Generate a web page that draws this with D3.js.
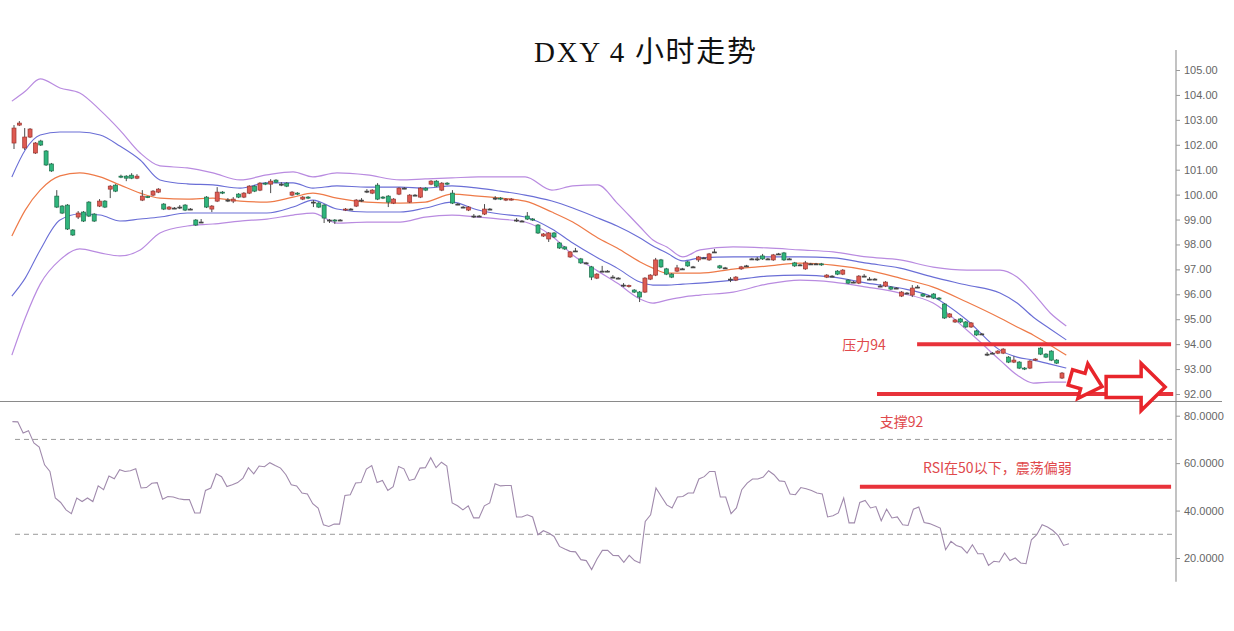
<!DOCTYPE html>
<html><head><meta charset="utf-8">
<script src="https://cdn.jsdelivr.net/npm/d3@7/dist/d3.min.js"></script>
<style>body{margin:0;background:#fff}svg{display:block}</style>
</head><body><svg id="c" width="1234" height="631"></svg>
<script>
// ---- DATA ----
const openP = [102.07,102.79,101.87,102.31,101.67,102.15,101.75,101.23,99.94,99.54,99.58,98.58,99.10,99.30,99.70,99.22,99.54,99.74,100.22,100.38,
100.74,100.74,100.78,100.66,99.78,99.92,99.98,100.10,99.62,99.42,99.46,99.50,99.58,99.42,98.98,98.90,99.90,99.42,99.74,100.10,
99.78,99.74,100.02,99.90,100.06,100.34,100.18,100.46,100.42,100.58,100.42,100.46,99.98,100.06,99.82,99.90,99.70,99.66,99.58,98.98,
98.98,98.98,99.38,99.42,99.54,99.78,100.14,100.06,100.38,99.90,99.94,99.66,100.02,100.26,99.70,99.98,99.90,100.26,100.42,100.54,
100.18,100.46,100.06,99.62,99.50,99.38,99.14,99.14,99.22,99.42,99.86,99.86,99.78,99.80,98.98,98.94,99.14,99.02,98.78,98.34,
98.22,98.46,98.06,97.90,97.50,97.74,97.42,97.26,97.10,96.65,96.93,96.93,96.69,96.65,96.37,96.31,96.17,96.09,96.09,96.61,
96.77,97.38,97.02,96.81,96.93,97.02,97.30,97.10,97.38,97.46,97.38,97.70,97.14,97.06,96.61,96.57,97.02,97.14,97.42,97.42,
97.54,97.42,97.38,97.62,97.66,97.42,97.26,97.18,97.02,97.22,97.22,97.22,96.69,96.73,96.93,96.81,96.57,96.49,96.45,96.73,
96.61,96.61,96.33,96.33,96.29,96.25,95.93,96.05,95.97,96.29,96.01,95.93,96.01,95.85,95.61,95.09,94.89,95.01,94.89,94.69,
94.53,94.41,93.60,93.64,93.64,93.64,93.48,93.28,93.28,93.04,93.04,93.36,93.84,93.60,93.72,93.36,92.64];
const closeP = [102.67,102.87,102.31,102.63,102.07,101.99,101.19,100.95,99.50,99.26,98.62,98.38,99.26,98.94,99.14,98.94,99.74,99.50,100.34,100.14,
100.70,100.66,100.66,100.74,99.94,99.88,100.14,100.22,99.42,99.50,99.46,99.50,99.38,99.42,98.78,98.90,99.50,99.54,100.10,100.06,
99.78,99.82,99.90,100.06,100.34,100.14,100.46,100.42,100.54,100.50,100.42,100.34,100.10,100.02,99.90,99.86,99.70,99.50,99.06,98.98,
98.94,98.98,99.42,99.42,99.78,99.78,100.14,100.18,99.82,99.86,99.70,99.82,100.26,100.26,99.98,99.98,100.26,100.18,100.54,100.34,
100.46,100.42,99.66,99.62,99.50,99.50,99.14,99.14,99.42,99.42,99.86,99.82,99.82,99.82,98.98,98.94,99.02,98.98,98.46,98.42,
98.46,98.30,97.86,97.82,97.70,97.74,97.26,97.26,96.69,96.81,96.93,96.93,96.69,96.65,96.37,96.35,96.09,95.89,96.65,96.77,
97.38,97.10,96.81,96.69,97.06,97.02,97.14,97.10,97.50,97.46,97.62,97.70,97.06,97.06,96.61,96.69,97.10,97.14,97.42,97.42,
97.42,97.42,97.58,97.62,97.38,97.42,97.14,97.18,97.26,97.22,97.22,97.18,96.77,96.73,96.81,96.97,96.45,96.49,96.73,96.73,
96.61,96.61,96.33,96.49,96.21,96.25,96.09,96.05,96.25,96.29,95.93,95.93,95.85,95.81,95.05,95.21,94.97,94.89,94.69,94.85,
94.37,94.41,93.60,93.64,93.72,93.80,93.28,93.36,93.04,93.00,93.32,93.40,93.60,93.48,93.36,93.24,92.84];
const highP = [102.79,102.95,102.67,102.67,102.11,102.20,101.79,101.27,100.18,99.58,99.62,98.62,99.34,99.34,99.74,99.26,99.82,99.78,100.38,100.42,
100.80,100.78,100.86,100.82,100.18,99.94,100.18,100.26,99.66,99.54,99.50,99.58,99.62,99.46,99.02,99.02,99.94,99.58,100.30,100.14,
99.86,99.90,100.06,100.10,100.38,100.38,100.50,100.50,100.62,100.62,100.50,100.50,100.14,100.10,99.94,99.94,99.78,99.70,99.62,99.02,
99.02,99.02,99.46,99.46,99.82,99.86,100.22,100.22,100.46,99.94,99.98,99.86,100.30,100.30,100.02,100.02,100.30,100.30,100.58,100.58,
100.50,100.50,100.18,99.66,99.54,99.54,99.22,99.18,99.62,99.46,99.94,99.90,99.86,99.86,99.06,98.98,99.30,99.06,98.82,98.46,
98.50,98.50,98.10,97.94,97.74,97.86,97.46,97.30,97.14,96.85,97.14,96.97,96.77,96.69,96.45,96.39,96.21,96.13,96.69,96.81,
97.46,97.42,97.06,96.85,97.18,97.06,97.34,97.14,97.54,97.50,97.66,97.82,97.18,97.10,96.69,96.73,97.14,97.18,97.46,97.50,
97.62,97.46,97.62,97.66,97.70,97.46,97.30,97.22,97.34,97.26,97.26,97.26,96.81,96.77,96.97,97.01,96.61,96.53,96.77,96.81,
96.69,96.65,96.41,96.53,96.33,96.29,96.13,96.09,96.37,96.37,96.05,95.97,96.05,95.89,95.65,95.25,95.01,95.05,94.93,94.89,
94.57,94.45,93.68,93.68,93.76,93.84,93.52,93.52,93.32,93.08,93.36,93.44,93.88,93.64,93.76,93.40,92.88];
const lowP = [101.83,102.75,101.79,102.27,101.63,101.95,101.15,100.91,99.46,99.22,98.58,98.34,99.02,98.90,99.10,98.90,99.50,99.46,99.86,100.10,
100.66,100.54,100.62,100.62,99.74,99.86,99.94,100.06,99.38,99.38,99.42,99.42,99.34,99.38,98.74,98.86,99.46,99.30,99.70,100.02,
99.70,99.66,99.86,99.86,100.02,100.10,100.14,100.38,100.06,100.46,100.34,100.30,99.94,99.98,99.78,99.82,99.50,99.46,98.86,98.86,
98.82,98.94,99.34,99.38,99.50,99.70,100.06,100.02,99.78,99.82,99.50,99.62,99.98,100.22,99.66,99.94,99.86,100.14,100.38,100.30,
100.14,100.38,99.62,99.58,99.46,99.34,99.06,99.10,99.18,99.38,99.78,99.78,99.74,99.76,98.90,98.90,98.98,98.94,98.42,98.30,
98.10,98.26,97.82,97.78,97.46,97.70,97.22,97.22,96.57,96.61,96.89,96.89,96.65,96.61,96.29,96.27,96.05,95.69,96.05,96.57,
96.73,97.06,96.77,96.65,96.89,96.98,97.10,97.06,97.30,97.42,97.34,97.66,97.02,97.02,96.49,96.53,96.98,97.10,97.38,97.34,
97.38,97.38,97.34,97.58,97.34,97.38,97.10,97.14,96.98,97.18,97.18,97.14,96.65,96.69,96.77,96.77,96.41,96.45,96.41,96.69,
96.57,96.57,96.29,96.29,96.17,96.21,95.89,96.01,95.89,96.25,95.89,95.89,95.81,95.77,95.01,95.05,94.85,94.85,94.65,94.65,
94.33,94.37,93.52,93.60,93.60,93.60,93.24,93.24,93.00,92.96,93.00,93.32,93.56,93.44,93.32,93.20,92.60];

// Bollinger band samples (bar index of each sample, then band values)
const bandIdx = [-0.4,2.1,4.9,8.6,12.3,16.1,19.8,23.6,27.3,32.4,37.2,42.3,47.3,52.2,55.9,60.4,66.0,72.2,76.9,81.9,86.8,90.9,95.6,100.6,104.5,109.2,112.8,117.1,119.5,122.1,125.1,128.3,134.5,140.8,147.0,153.2,159.5,165.7,171.9,178.2,184.4,187.6,190.6,193.8,196.8];
const outerUpper = [103.75,104.15,104.64,104.28,104.08,103.39,102.59,101.67,101.15,101.07,100.87,100.59,100.79,100.91,100.71,100.87,100.79,100.59,100.63,100.67,100.71,100.71,100.71,100.18,100.35,100.39,99.66,98.70,98.18,97.90,97.50,97.78,97.90,97.86,97.78,97.70,97.50,97.38,97.09,96.97,96.97,96.69,96.05,95.25,94.73];
const innerUpper = [100.71,101.79,102.39,102.51,102.51,102.39,101.95,101.39,100.59,100.43,100.39,100.26,100.47,100.47,100.26,100.35,100.30,100.30,100.26,100.35,100.26,100.14,99.98,99.74,99.46,99.06,98.74,98.26,97.94,97.66,97.34,97.46,97.50,97.50,97.50,97.46,97.25,97.05,96.69,96.37,96.05,95.65,95.09,94.61,94.17];
const middleBand = [98.34,99.38,100.18,100.75,100.87,100.71,100.39,100.06,99.86,99.82,99.86,99.74,99.70,99.90,100.06,99.86,99.70,99.66,99.70,100.02,99.94,99.86,99.74,99.30,98.90,98.26,97.86,97.30,97.05,96.85,96.85,96.85,97.01,97.13,97.25,97.17,96.97,96.65,96.29,95.69,95.05,94.69,94.37,93.96,93.56];
const innerLower = [95.93,96.65,97.78,98.98,99.22,99.18,98.94,99.02,99.10,99.26,99.26,99.26,99.26,99.50,99.78,99.42,99.30,99.30,99.46,99.70,99.38,99.22,99.10,98.62,98.06,97.46,97.05,96.49,96.37,96.37,96.41,96.45,96.57,96.73,96.77,96.69,96.45,96.25,95.89,94.97,93.76,93.48,93.36,93.20,93.04];
const outerLower = [93.56,95.05,96.41,97.38,97.82,97.66,97.54,97.78,98.46,98.74,98.82,98.94,99.02,99.18,99.26,98.86,98.90,98.90,99.10,99.18,99.10,99.02,98.90,98.34,97.58,96.93,96.45,95.81,95.65,95.77,95.89,95.97,96.09,96.41,96.57,96.49,96.29,96.05,95.65,94.57,93.36,92.76,92.44,92.48,92.48];

// RSI(14)
const rsi = [77.5,77.4,72.7,73.7,68.5,66.8,59.3,56.5,45.3,43.4,40.3,38.7,45.3,43.8,45.3,43.8,50.4,48.8,54.6,53.4,
57.2,56.5,56.8,57.6,49.5,49.7,51.5,51.8,44.8,45.9,45.7,45.0,44.6,44.6,39.0,39.0,48.5,49.5,55.5,54.3,
50.1,50.9,51.8,53.7,58.1,55.5,58.8,58.5,60.2,59.0,57.9,55.1,50.9,50.4,47.4,47.0,42.9,41.1,34.0,33.3,
34.3,34.3,46.4,46.7,51.6,51.8,57.5,59.0,51.8,52.7,48.5,50.1,58.6,57.6,52.7,53.3,57.9,58.1,62.3,58.1,
60.4,58.8,43.2,42.0,40.3,42.0,36.9,36.9,42.0,43.2,51.3,50.4,50.6,50.6,37.3,37.3,38.2,37.3,29.8,31.5,
30.5,29.1,24.9,23.8,22.8,22.6,19.3,18.9,15.1,19.6,23.2,23.2,21.1,21.0,18.2,21.1,18.9,17.9,35.4,38.2,
49.5,45.9,42.4,41.1,45.7,45.9,47.4,47.4,53.3,54.3,56.5,56.5,45.7,45.7,38.7,41.1,48.8,51.6,53.3,53.3,
54.1,56.8,55.1,52.5,52.3,47.0,46.7,49.7,49.2,48.5,47.4,47.0,37.3,37.8,39.0,45.3,34.8,34.8,43.4,44.3,
41.1,41.7,35.7,40.6,36.9,37.3,34.0,33.7,40.6,41.5,35.0,34.5,33.6,32.6,23.5,27.0,25.3,24.5,22.1,25.6,
21.8,21.8,16.9,18.6,18.3,22.1,18.9,20.0,17.9,17.6,27.7,29.8,34.0,33.1,31.6,29.4,25.3,26.0];

const priceTicks = [105,104,103,102,101,100,99,98,97,96,95,94,93,92];
const rsiTicks = [80,60,40,20];
const rsiGuides = [70,30];
const titleText = "DXY 4 小时走势";

// annotations (levels in price / RSI units, extents in bar index)
const levels = [
  {panel:"price", value:94, from:168.9, to:216.4, label:"压力94", labelAt:154.9, labelPanel:"price", labelValue:93.76},
  {panel:"price", value:92, from:161.4, to:216.8, label:"支撑92", labelAt:161.9, labelPanel:"rsi", labelValue:75.2},
  {panel:"rsi",   value:50, from:158.2, to:216.4, label:"RSI在50以下，震荡偏弱", labelAt:170.0, labelPanel:"rsi", labelValue:56.0}
];

// ---- DRAW ----
const svg = d3.select("#c");
const n = closeP.length;
const x = d3.scaleLinear().domain([0, n - 1]).range([14, 1062]);
const y = d3.scaleLinear().domain([92, 105]).range([394, 70]);
const yR = d3.scaleLinear().domain([20, 80]).range([558, 415.7]);
const xR = d3.scaleLinear().domain([0, rsi.length - 1]).range([x(-0.3), x(n - 1 + 1.3)]);
const axisX = 1176;

svg.append("rect").attr("width", 1234).attr("height", 631).attr("fill", "#fff");

// title
svg.append("text").attr("x", 645).attr("y", 62).attr("text-anchor", "middle")
  .attr("font-family", "'Liberation Serif','DejaVu Serif','Noto Sans CJK SC',serif")
  .attr("font-size", 29).attr("fill", "#111")
  .attr("textLength", 222).attr("lengthAdjust", "spacing")
  .text(titleText);

// bands
function band(vals, color, w) {
  const line = d3.line().x((d, i) => x(bandIdx[i])).y(d => y(d)).curve(d3.curveMonotoneX);
  svg.append("path").attr("d", line(vals)).attr("fill", "none").attr("stroke", color).attr("stroke-width", w);
}
band(outerUpper, "#b98be0", 1.2);
band(outerLower, "#b98be0", 1.2);
band(innerUpper, "#6a6ed6", 1.1);
band(innerLower, "#6a6ed6", 1.1);
band(middleBand, "#ee7a48", 1.2);

// candles
const idx = d3.range(n);
const bw = 4;
const cg = svg.append("g");
cg.selectAll("line.w").data(idx).join("line")
  .attr("x1", i => x(i)).attr("x2", i => x(i))
  .attr("y1", i => y(highP[i])).attr("y2", i => y(lowP[i]))
  .attr("stroke", "#4a4a4a").attr("stroke-width", 1);
cg.selectAll("rect.b").data(idx).join("rect")
  .attr("x", i => x(i) - bw / 2)
  .attr("y", i => y(Math.max(openP[i], closeP[i])))
  .attr("width", bw)
  .attr("height", i => Math.max(1, Math.abs(y(openP[i]) - y(closeP[i]))))
  .attr("fill", i => closeP[i] > openP[i] ? "#de5b52" : closeP[i] < openP[i] ? "#2fb57c" : "#444")
  .attr("stroke", i => closeP[i] > openP[i] ? "#9b3530" : closeP[i] < openP[i] ? "#1d6e4b" : "#444")
  .attr("stroke-width", 0.7);

// panel separator
svg.append("line").attr("x1", 0).attr("x2", 1222).attr("y1", 401.5).attr("y2", 401.5)
  .attr("stroke", "#8a8a8a").attr("stroke-width", 1.2);

// price axis
const pa = svg.append("g").attr("transform", `translate(${axisX},0)`)
  .call(d3.axisRight(y).tickValues(priceTicks).tickFormat(d3.format(".2f")).tickSize(4).tickPadding(4));
pa.select(".domain").remove();
pa.selectAll("line").attr("stroke", "#999");
pa.selectAll("text").attr("fill", "#666").attr("font-size", 11).attr("font-family", "'Liberation Sans',Arial,sans-serif");
svg.append("line").attr("x1", axisX).attr("x2", axisX).attr("y1", y(105.8)).attr("y2", 401)
  .attr("stroke", "#9a9a9a").attr("stroke-width", 1.2);

// RSI panel
svg.selectAll("line.guide").data(rsiGuides).join("line")
  .attr("x1", 15).attr("x2", 1172).attr("y1", d => yR(d)).attr("y2", d => yR(d))
  .attr("stroke", "#9a9a9a").attr("stroke-width", 1).attr("stroke-dasharray", "5,4");

const rsiLine = d3.line().x((d, i) => xR(i)).y(d => yR(d));
svg.append("path").attr("d", rsiLine(rsi)).attr("fill", "none")
  .attr("stroke", "#a08aac").attr("stroke-width", 1.1);

const ra = svg.append("g").attr("transform", `translate(${axisX},0)`)
  .call(d3.axisRight(yR).tickValues(rsiTicks).tickFormat(d3.format(".4f")).tickSize(4).tickPadding(4));
ra.select(".domain").remove();
ra.selectAll("line").attr("stroke", "#999");
ra.selectAll("text").attr("fill", "#666").attr("font-size", 11).attr("font-family", "'Liberation Sans',Arial,sans-serif");
svg.append("line").attr("x1", axisX).attr("x2", axisX).attr("y1", 402).attr("y2", yR(10))
  .attr("stroke", "#9a9a9a").attr("stroke-width", 1.2);

// annotation lines & labels
const red = "#e8323a";
const txtRed = "#e0494c";
levels.forEach(l => {
  const sy = l.panel === "price" ? y : yR;
  svg.append("line").attr("x1", x(l.from)).attr("x2", x(l.to))
    .attr("y1", sy(l.value)).attr("y2", sy(l.value))
    .attr("stroke", red).attr("stroke-width", 4);
  const ly = l.labelPanel === "price" ? y : yR;
  svg.append("text").attr("x", x(l.labelAt)).attr("y", ly(l.labelValue))
    .attr("font-family", "'Noto Sans CJK SC','Noto Sans',sans-serif").attr("font-size", 14)
    .attr("fill", txtRed).text(l.label);
});

// hollow arrows
function arrow(cx, cy, ang, sl, sh, hh, hl) {
  const pts = [[-sl, -sh], [0, -sh], [0, -hh], [hl, 0], [0, hh], [0, sh], [-sl, sh]];
  svg.append("path").attr("d", "M" + pts.map(p => p.join(",")).join("L") + "Z")
    .attr("transform", `translate(${cx},${cy}) rotate(${ang})`)
    .attr("fill", "#fff").attr("stroke", "#e8252b").attr("stroke-width", 3.5)
    .attr("stroke-linejoin", "miter");
}
arrow(x(199.9), y(92.52), 16, 13, 8, 18, 20);
arrow(x(210.8), y(92.28), 0, 35, 10.5, 23.5, 24);
</script></body></html>
